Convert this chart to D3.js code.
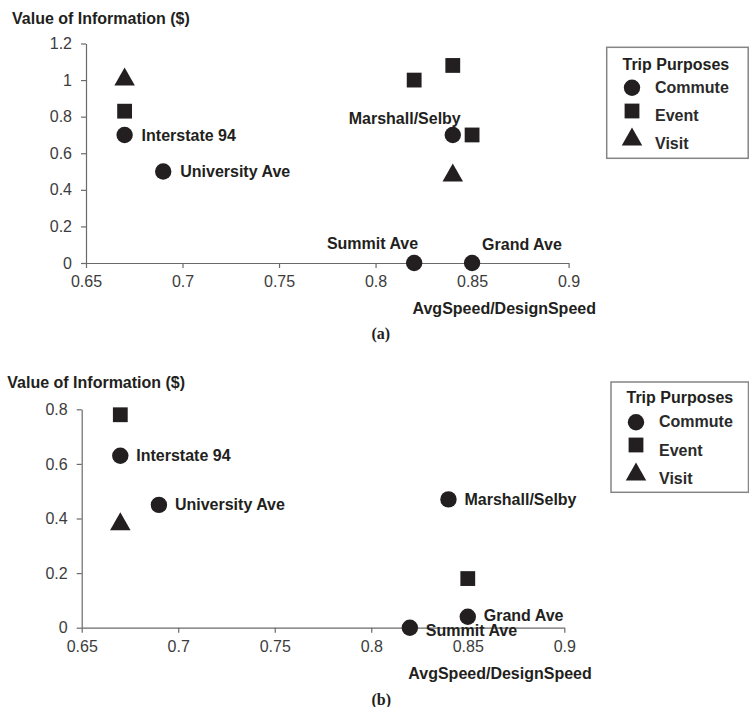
<!DOCTYPE html>
<html>
<head>
<meta charset="utf-8">
<script src="https://cdn.jsdelivr.net/npm/d3@7"></script>
<style>
  html, body { margin: 0; padding: 0; background: #ffffff; }
  svg { display: block; }
</style>
</head>
<body>
<svg id="chart" width="749" height="707"></svg>
<script>
// ---------- data ----------
const xTicks = [0.65, 0.7, 0.75, 0.8, 0.85, 0.9];
const xTickLabels = ["0.65", "0.7", "0.75", "0.8", "0.85", "0.9"];
const yTicksA = [0, 0.2, 0.4, 0.6, 0.8, 1, 1.2];
const yTickLabelsA = ["0", "0.2", "0.4", "0.6", "0.8", "1", "1.2"];
const yTicksB = [0, 0.2, 0.4, 0.6, 0.8];
const yTickLabelsB = ["0", "0.2", "0.4", "0.6", "0.8"];

const yTitle = "Value of Information ($)";
const xTitle = "AvgSpeed/DesignSpeed";
const legendTitle = "Trip Purposes";
const purposes = ["Commute", "Event", "Visit"];

// Panel (a)
const commuteRoadsA = ["Interstate 94", "University Ave", "Marshall/Selby", "Summit Ave", "Grand Ave"];
const commuteXA = [0.67, 0.69, 0.84, 0.82, 0.85];
const commuteYA = [0.70, 0.50, 0.70, 0.00, 0.00];
const eventXA = [0.67, 0.82, 0.84, 0.85];
const eventYA = [0.83, 1.00, 1.08, 0.70];
const visitXA = [0.67, 0.84];
const visitYA = [1.02, 0.495];

// Panel (b)
const commuteRoadsB = ["Interstate 94", "University Ave", "Marshall/Selby", "Grand Ave", "Summit Ave"];
const commuteXB = [0.67, 0.69, 0.84, 0.85, 0.82];
const commuteYB = [0.63, 0.45, 0.47, 0.04, 0.00];
const eventXB = [0.67, 0.85];
const eventYB = [0.78, 0.18];
const visitXB = [0.67];
const visitYB = [0.39];

// ---------- style ----------
const INK = "#231f20";
const TICK_INK = "#3c3c3c";
const AXIS_INK = "#6a6a6a";
const SANS = "'Liberation Sans', Arial, Helvetica, sans-serif";
const SERIF = "'Liberation Serif', 'Times New Roman', serif";

// label placements (style): how each road label sits relative to its marker
const placeA = {
  "Interstate 94": {dx: 17, dy: 0, anchor: "start"},
  "University Ave": {dx: 17, dy: 0, anchor: "start"},
  "Marshall/Selby": {dx: 8, dy: -17, anchor: "end"},
  "Summit Ave": {dx: 4, dy: -20, anchor: "end"},
  "Grand Ave": {dx: 10, dy: -19, anchor: "start"}
};
const placeB = {
  "Interstate 94": {dx: 16, dy: 0, anchor: "start"},
  "University Ave": {dx: 16, dy: 0, anchor: "start"},
  "Marshall/Selby": {dx: 16, dy: 0, anchor: "start"},
  "Grand Ave": {dx: 16, dy: -1.5, anchor: "start"},
  "Summit Ave": {dx: 16, dy: 3, anchor: "start"}
};

const svg = d3.select("#chart");

function drawMarker(g, type, cx, cy) {
  if (type === "Commute") {
    g.append("circle").attr("cx", cx).attr("cy", cy).attr("r", 8.2).attr("fill", INK);
  } else if (type === "Event") {
    const s = 14.8;
    g.append("rect").attr("x", cx - s / 2).attr("y", cy - s / 2)
      .attr("width", s).attr("height", s).attr("fill", INK);
  } else {
    const w = 20.5, h = 18;
    g.append("path")
      .attr("d", `M${cx},${cy - h / 2}L${cx + w / 2},${cy + h / 2}L${cx - w / 2},${cy + h / 2}Z`)
      .attr("fill", INK);
  }
}

function panel(cfg) {
  const g = svg.append("g");
  const x = d3.scaleLinear().domain([0.65, 0.9]).range([cfg.x0, cfg.x1]);
  const y = d3.scaleLinear().domain([0, cfg.yMax]).range([cfg.y0, cfg.y1]);

  // y axis
  const yAxis = d3.axisLeft(y).tickValues(cfg.yTicks)
    .tickFormat((d, i) => cfg.yLabels[i]).tickSize(5).tickPadding(9).tickSizeOuter(0);
  const ya = g.append("g").attr("transform", `translate(${cfg.x0},0)`).call(yAxis);
  ya.select(".domain").attr("stroke", AXIS_INK).attr("stroke-width", 1.2);
  ya.selectAll(".tick line").attr("stroke", AXIS_INK).attr("stroke-width", 1.2);
  ya.selectAll(".tick text").attr("font-family", SANS).attr("font-size", 16)
    .attr("fill", TICK_INK);

  // x axis
  const xAxis = d3.axisBottom(x).tickValues(xTicks)
    .tickFormat((d, i) => xTickLabels[i]).tickSize(5).tickPadding(8).tickSizeOuter(0);
  const xa = g.append("g").attr("transform", `translate(0,${cfg.y0})`).call(xAxis);
  xa.select(".domain").attr("stroke", AXIS_INK).attr("stroke-width", 1.2);
  xa.selectAll(".tick line").attr("stroke", AXIS_INK).attr("stroke-width", 1.2);
  xa.selectAll(".tick text").attr("font-family", SANS).attr("font-size", 16)
    .attr("fill", TICK_INK);
  ya.raise();

  // titles
  g.append("text").attr("x", cfg.yTitleX).attr("y", cfg.yTitleY).attr("dy", "0.35em")
    .attr("font-family", SANS).attr("font-weight", "bold").attr("font-size", 16)
    .attr("fill", INK).text(yTitle);
  g.append("text").attr("x", cfg.xTitleX).attr("y", cfg.xTitleY).attr("dy", "0.35em")
    .attr("font-family", SANS).attr("font-weight", "bold").attr("font-size", 16)
    .attr("fill", INK).text(xTitle);
  g.append("text").attr("x", cfg.capX).attr("y", cfg.capY).attr("dy", "0.35em")
    .attr("font-family", SERIF).attr("font-weight", "bold").attr("font-size", 16)
    .attr("fill", INK).text(cfg.caption);

  // points
  const pts = g.append("g");
  cfg.eventX.forEach((v, i) => drawMarker(pts, "Event", x(v), y(cfg.eventY[i])));
  cfg.visitX.forEach((v, i) => drawMarker(pts, "Visit", x(v), y(cfg.visitY[i])));
  cfg.commuteX.forEach((v, i) => drawMarker(pts, "Commute", x(v), y(cfg.commuteY[i])));

  // labels
  cfg.roads.forEach((name, i) => {
    const p = cfg.place[name];
    g.append("text")
      .attr("x", x(cfg.commuteX[i]) + p.dx)
      .attr("y", y(cfg.commuteY[i]) + p.dy)
      .attr("dy", "0.35em")
      .attr("text-anchor", p.anchor)
      .attr("font-family", SANS).attr("font-weight", "bold").attr("font-size", 16)
      .attr("fill", INK).text(name);
  });

  // legend
  const L = cfg.legend;
  const lg = g.append("g");
  lg.append("rect").attr("x", L.x).attr("y", L.y).attr("width", L.w).attr("height", L.h)
    .attr("fill", "#fff").attr("stroke", "#858585").attr("stroke-width", 1.5);
  lg.append("text").attr("x", L.titleX).attr("y", L.titleY).attr("dy", "0.35em")
    .attr("font-family", SANS).attr("font-weight", "bold").attr("font-size", 16)
    .attr("fill", INK).text(legendTitle);
  purposes.forEach((p, i) => {
    drawMarker(lg, p, L.markX, L.markY[i]);
    lg.append("text").attr("x", L.textX).attr("y", L.textY[i]).attr("dy", "0.35em")
      .attr("font-family", SANS).attr("font-weight", "bold").attr("font-size", 16)
      .attr("fill", "#2a2a2a").text(p);
  });
}

panel({
  x0: 86, x1: 568.6, y0: 263, y1: 43.5, yMax: 1.2,
  yTicks: yTicksA, yLabels: yTickLabelsA,
  yTitleX: 12, yTitleY: 18, xTitleX: 412.5, xTitleY: 308.5,
  caption: "(a)", capX: 371.5, capY: 333,
  roads: commuteRoadsA, commuteX: commuteXA, commuteY: commuteYA,
  eventX: eventXA, eventY: eventYA, visitX: visitXA, visitY: visitYA,
  place: placeA,
  legend: {x: 606.7, y: 47.3, w: 141.5, h: 111, titleX: 622.5, titleY: 64,
           markX: 632, markY: [87.7, 111, 136.5], textX: 655, textY: [87.7, 115.7, 143.3]}
});

panel({
  x0: 81.7, x1: 564.3, y0: 627.7, y1: 409.3, yMax: 0.8,
  yTicks: yTicksB, yLabels: yTickLabelsB,
  yTitleX: 7.3, yTitleY: 382.5, xTitleX: 408.3, xTitleY: 673.3,
  caption: "(b)", capX: 371.5, capY: 699.3,
  roads: commuteRoadsB, commuteX: commuteXB, commuteY: commuteYB,
  eventX: eventXB, eventY: eventYB, visitX: visitXB, visitY: visitYB,
  place: placeB,
  legend: {x: 611, y: 382, w: 137.5, h: 110.3, titleX: 626.5, titleY: 397.7,
           markX: 636, markY: [422.3, 445, 471.5], textX: 659, textY: [421.7, 450, 478.3]}
});
</script>
</body>
</html>
